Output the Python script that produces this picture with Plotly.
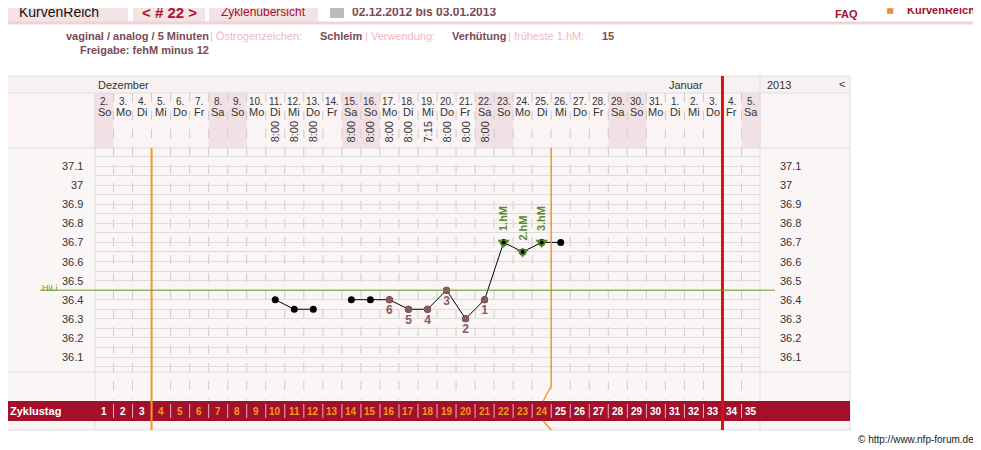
import plotly.graph_objects as go

# ---- data ----
cycle_days = list(range(1, 36))
dates = [f"{d}." for d in range(2, 32)] + [f"{d}." for d in range(1, 6)]
weekdays = (["So", "Mo", "Di", "Mi", "Do", "Fr", "Sa"] * 6)[:35]
times = {10: "8:00", 11: "8:00", 12: "8:00", 14: "8:00", 15: "8:00", 16: "8:00",
         17: "8:00", 18: "7:15", 19: "8:00", 20: "8:00", 21: "8:00"}
black_days = [10, 11, 12]
black_temps = [36.40, 36.35, 36.35]
seg2_days = [14, 15, 16, 17, 18, 19, 20, 21, 22, 23, 24, 25]
seg2_temps = [36.40, 36.40, 36.40, 36.35, 36.35, 36.45, 36.30, 36.40, 36.70, 36.65, 36.70, 36.70]
low_days = [16, 17, 18, 19, 20, 21]
low_temps = [36.40, 36.35, 36.35, 36.45, 36.30, 36.40]
low_labels = ["6", "5", "4", "3", "2", "1"]
hm_days = [22, 23, 24]
hm_temps = [36.70, 36.65, 36.70]
hm_labels = ["1.hM", "2.hM", "3.hM"]
hili = 36.45
temp_ticks = [36.1, 36.2, 36.3, 36.4, 36.5, 36.6, 36.7, 36.8, 36.9, 37.0, 37.1]
temp_tick_labels = ["36.1", "36.2", "36.3", "36.4", "36.5", "36.6", "36.7", "36.8", "36.9", "37", "37.1"]
cycle_start, cycle_end = 4, 24

W, H = 981, 450
OFF = 8  # page body margin
X0, CW = 104, 19.03
def cx(d): return X0 + (d - 1) * CW
PINK = "#f3e3e5"; DARK = "#7a4a55"; LIGHT = "#f0b8c0"; RED = "#a3102b"; ORANGE = "#f39a1e"
FONT = "Liberation Sans"

fig = go.Figure()
shapes, ann = [], []
def rect(x0, y0, x1, y1, fill, line=None):
    shapes.append(dict(type="rect", xref="x", yref="y", x0=x0, y0=y0, x1=x1, y1=y1,
                       fillcolor=fill, line=dict(width=1 if line else 0, color=line or fill), layer="below"))
def line(x0, y0, x1, y1, color, w=1, dash="solid", layer="below", yref="y"):
    shapes.append(dict(type="line", xref="x", yref=yref, x0=x0, y0=y0, x1=x1, y1=y1,
                       line=dict(color=color, width=w, dash=dash), layer=layer))
def text(x, y, t, size=11, color="#333", xa="center", bold=False, angle=0, yref="y"):
    ann.append(dict(xref="x", yref=yref, x=x, y=y, text=f"<b>{t}</b>" if bold else t, showarrow=False,
                    font=dict(size=size, color=color, family=FONT), xanchor=xa, yanchor="middle", textangle=angle))

# header
rect(0, 0, 128, 22, PINK); rect(133, 0, 205, 22, PINK); rect(209, 0, 318, 22, PINK)
line(0, 23, 981, 23, "#efd3d7", 3)
text(17, 12, "KurvenReich", 14, "#111", "left")
text(169, 12, "<b>< # 22 ></b>", 15, "#b01030")
text(263, 12, "Zyklenübersicht", 12, "#a3102b")
rect(330, 5, 344, 18, "#bbbbbb")
text(350, 12, "02.12.2012 bis 03.01.2013", 12, DARK, "left", True)
text(846, 14, "FAQ", 11, "#a3102b", "center", True)
text(905, 10, "KurvenReich", 11, "#a3102b", "left", True)
text(890, 9, "♛", 14, "#e0781e")
# info lines
text(5, 36, "Messung:", 11, LIGHT, "left"); text(64, 36, "vaginal / analog / 5 Minuten", 11, DARK, "left", True)
text(208, 36, "| Östrogenzeichen:", 11, LIGHT, "left"); text(318, 36, "Schleim", 11, DARK, "left", True)
text(363, 36, "| Verwendung:", 11, LIGHT, "left"); text(450, 36, "Verhütung", 11, DARK, "left", True)
text(506, 36, "| früheste 1.hM:", 11, LIGHT, "left"); text(600, 36, "15", 11, DARK, "left", True)
text(5, 50, "Kommentar:", 11, LIGHT, "left"); text(78, 50, "Freigabe: fehM minus 12", 11, DARK, "left", True)

# chart frame
rect(0, 76, 850, 430, "#fbf6f6")
rect(0, 76, 850, 93, "#f8f1f1")
rect(0, 93, 850, 148, "#faf4f4")
for d, wd in zip(cycle_days, weekdays):
    if wd in ("Sa", "So"):
        rect(cx(d) - CW / 2, 93, cx(d) + CW / 2, 148, "#f2e1e4")
line(0, 76, 850, 76, "#dddddd"); line(0, 93, 850, 93, "#dddddd"); line(0, 148, 850, 148, "#dddddd")
line(0, 372, 850, 372, "#dddddd"); line(0, 430, 850, 430, "#dddddd")
line(0, 76, 0, 430, "#dddddd"); line(850, 76, 850, 430, "#dddddd")
line(95, 93, 95, 430, "#dddddd"); line(760, 76, 760, 430, "#dddddd")
for d in cycle_days[:-1]:
    xb = cx(d) + CW / 2
    line(xb, 93, xb, 400, "#cccccc", 1, "dash")
text(7, 84, ">", 11, "#333", "left"); text(96, 85, "Dezember", 11, "#333", "left")
text(667, 85, "Januar", 11, "#333", "left"); text(765, 85, "2013", 11, "#333", "left"); text(842, 84, "<", 11, "#333")
for d, dt, wd in zip(cycle_days, dates, weekdays):
    text(cx(d), 101, dt, 10, "#333"); text(cx(d), 112, wd, 11, "#333")
    if d in times:
        text(cx(d), 132, times[d], 11, "#333", angle=-90)

# cycle-day row
rect(0, 401, 850, 421, RED)
text(8, 411, "Zyklustag", 11, "white", "left", True)
for d in cycle_days:
    if d < 35:
        line(cx(d) + CW / 2, 404, cx(d) + CW / 2, 418, "#e8b0b8")
    col = ORANGE if cycle_start <= d <= cycle_end else "white"
    text(cx(d), 411, str(d), 10, col, bold=True)

# orange / red verticals
xo1 = cx(cycle_start) - CW / 2; xo2 = cx(cycle_end) + CW / 2
line(xo1, 148, xo1, 430, ORANGE, 2, layer="above")
line(xo2, 148, xo2, 386, ORANGE, 1.5, layer="above")
line(xo2, 386, xo2 - 8, 401, ORANGE, 1.5, layer="above")
line(xo2 - 8, 421, xo2, 430, ORANGE, 1.5, layer="above")
xr = cx(33) + CW / 2
line(xr, 76, xr, 430, "#e01010", 3, layer="above")

# temperature labels and hili
for v, lab in zip(temp_ticks, temp_tick_labels):
    text(85, v, lab, 11, "#333", "right", yref="y2")
    text(778, v, lab, 11, "#333", "left", yref="y2")
line(40, hili, 775, hili, "#6a9a2a", 1, yref="y2", layer="above")
text(40, hili + 0.012, "HiLi", 9, "#6a9a2a", "left", yref="y2")

# data traces
fig.add_trace(go.Scatter(x=black_days, y=black_temps, xaxis="x2", yaxis="y2", mode="lines+markers",
                         line=dict(color="black", width=1), marker=dict(color="black", size=7)))
fig.add_trace(go.Scatter(x=seg2_days, y=seg2_temps, xaxis="x2", yaxis="y2", mode="lines+markers",
                         line=dict(color="black", width=1), marker=dict(color="black", size=7)))
fig.add_trace(go.Scatter(x=low_days, y=low_temps, xaxis="x2", yaxis="y2", mode="markers+text",
                         marker=dict(color="#8a5a5f", size=7), text=[f"<b>{t}</b>" for t in low_labels],
                         textposition="bottom center",
                         textfont=dict(color="#8a5a5f", size=12, family=FONT)))
fig.add_trace(go.Scatter(x=hm_days, y=hm_temps, xaxis="x2", yaxis="y2", mode="markers",
                         marker=dict(color="#5a8a2a", size=11, symbol="triangle-down")))
fig.add_trace(go.Scatter(x=hm_days, y=hm_temps, xaxis="x2", yaxis="y2", mode="markers",
                         marker=dict(color="black", size=4)))
for d, t, lab in zip(hm_days, hm_temps, hm_labels):
    ann.append(dict(xref="x2", yref="y2", x=d, y=t, text=f"<b>{lab}</b>", showarrow=False, textangle=-90,
                    yshift=24, font=dict(size=11, color="#5a8a2a", family=FONT)))

text(976, 439, "© http://www.nfp-forum.de", 10, "#222", "right")

y_top = 37.1 + (166 - 148) / 191; y_bot = 36.1 - (372 - 357) / 191
fig.update_layout(
    width=W, height=H, margin=dict(l=0, r=0, t=0, b=0), showlegend=False,
    paper_bgcolor="white", plot_bgcolor="rgba(0,0,0,0)", shapes=shapes, annotations=ann,
    xaxis=dict(range=[OFF, W + OFF], visible=False, fixedrange=True),
    yaxis=dict(range=[H + OFF, OFF], visible=False, fixedrange=True),
    xaxis2=dict(domain=[(95 - OFF) / W, (760 - OFF) / W], range=[0.53, 35.47], visible=False, anchor="y2"),
    yaxis2=dict(domain=[1 - (372 - OFF) / H, 1 - (148 - OFF) / H], range=[y_bot, y_top], anchor="x2",
                showticklabels=False, ticks="", zeroline=False, showgrid=True,
                tick0=36.0, dtick=0.05, gridcolor="#dcdcdc", gridwidth=1),
)
fig.write_html("out.html")
